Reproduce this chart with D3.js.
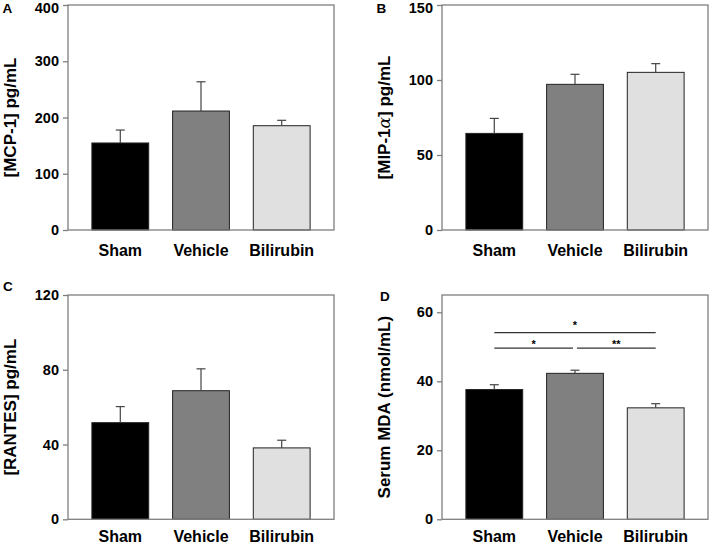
<!DOCTYPE html>
<html>
<head>
<meta charset="utf-8">
<script src="https://cdn.jsdelivr.net/npm/d3@7"></script>
<style>
  html, body { margin: 0; padding: 0; background: #fff; }
  svg { display: block; }
  text { font-family: "Liberation Sans", Arial, sans-serif; font-weight: bold; fill: #000; }
</style>
</head>
<body>
<svg id="chart" width="709" height="546"></svg>
<script>
// ---- data ----
const categories = ["Sham", "Vehicle", "Bilirubin"];
const barColors = ["#000000", "#808080", "#e0e0e0"];

const mcp1Values = [154.7, 211.5, 185.4];
const mcp1Errors = [23, 52, 9.6];
const mcp1Ticks = [0, 100, 200, 300, 400];

const mip1aValues = [64.4, 97.1, 105.1];
const mip1aErrors = [10, 6.7, 5.8];
const mip1aTicks = [0, 50, 100, 150];

const rantesValues = [51.7, 68.8, 38.2];
const rantesErrors = [8.6, 11.7, 4.1];
const rantesTicks = [0, 40, 80, 120];

const mdaValues = [37.6, 42.3, 32.3];
const mdaErrors = [1.4, 0.9, 1.2];
const mdaTicks = [0, 20, 40, 60];

// significance brackets for panel D: [fromIndex, toIndex, yValue, label]
const mdaSig = [
  [0, 2, 54.1, "*"],
  [0, 1, 49.6, "*"],
  [1, 2, 49.6, "**"]
];

// ---- layout ----
const svg = d3.select("#chart");
const panels = [
  { letter: "A", title: "[MCP-1] pg/mL", values: mcp1Values, errors: mcp1Errors, ticks: mcp1Ticks, max: 400,
    x0: 68, x1: 334, y0: 5, y1: 230, titleX: 15.5, letterX: 2.5, letterY: 13, catY: 256 },
  { letter: "B", title: "MIP", values: mip1aValues, errors: mip1aErrors, ticks: mip1aTicks, max: 150,
    x0: 442, x1: 708, y0: 5, y1: 230, titleX: 389.5, letterX: 376.5, letterY: 13, catY: 256 },
  { letter: "C", title: "[RANTES] pg/mL", values: rantesValues, errors: rantesErrors, ticks: rantesTicks, max: 120,
    x0: 68, x1: 334, y0: 295, y1: 519.3, titleX: 15.5, letterX: 3, letterY: 291, catY: 542.4 },
  { letter: "D", title: "Serum MDA (nmol/mL)", values: mdaValues, errors: mdaErrors, ticks: mdaTicks, max: 65,
    x0: 442, x1: 708, y0: 295, y1: 519.3, titleX: 389.5, letterX: 380, letterY: 300.5, catY: 542.4, sig: mdaSig }
];

const frameColor = "#7f7f7f";

panels.forEach(p => {
  const g = svg.append("g");
  const x = d3.scaleBand().domain(categories).range([p.x0, p.x1]).paddingInner(0.296).paddingOuter(0.296);
  const y = d3.scaleLinear().domain([0, p.max]).range([p.y1, p.y0]);

  // bars
  g.selectAll("rect.bar").data(p.values).enter().append("rect")
    .attr("x", (d, i) => x(categories[i]))
    .attr("y", d => y(d))
    .attr("width", x.bandwidth())
    .attr("height", d => y(0) - y(d))
    .attr("fill", (d, i) => barColors[i])
    .attr("stroke", "#222")
    .attr("stroke-width", 1);

  // error bars (upper only)
  p.values.forEach((v, i) => {
    const cx = x(categories[i]) + x.bandwidth() / 2;
    const top = y(v + p.errors[i]);
    g.append("line").attr("x1", cx).attr("x2", cx).attr("y1", y(v)).attr("y2", top)
      .attr("stroke", "#444").attr("stroke-width", 1.2);
    g.append("line").attr("x1", cx - 4.5).attr("x2", cx + 4.5).attr("y1", top).attr("y2", top)
      .attr("stroke", "#444").attr("stroke-width", 1.2);
  });

  // frame
  g.append("rect").attr("x", p.x0).attr("y", p.y0).attr("width", p.x1 - p.x0).attr("height", p.y1 - p.y0)
    .attr("fill", "none").attr("stroke", frameColor).attr("stroke-width", 1.3);

  // y axis
  const ya = g.append("g").attr("transform", `translate(${p.x0},0)`)
    .call(d3.axisLeft(y).tickValues(p.ticks).tickSize(5).tickPadding(4).tickFormat(d3.format("d")));
  ya.select(".domain").remove();
  ya.selectAll(".tick line").attr("stroke", frameColor).attr("stroke-width", 1.3);
  ya.selectAll(".tick text").attr("font-size", "14.5px").attr("font-family", "'Liberation Sans', Arial, sans-serif")
    .attr("font-weight", "bold").attr("fill", "#000");
  // keep a label at the very top edge inside the page
  ya.selectAll(".tick text").each(function () {
    const ty = y(+d3.select(this.parentNode).datum());
    if (ty < 9) d3.select(this).attr("dy", "0.55em");
  });

  // x category labels
  g.selectAll("text.cat").data(categories).enter().append("text")
    .attr("x", d => x(d) + x.bandwidth() / 2)
    .attr("y", p.catY)
    .attr("text-anchor", "middle")
    .attr("font-size", "16px")
    .text(d => d);

  // y title
  const cy = (p.y0 + p.y1) / 2;
  const t = g.append("text")
    .attr("transform", `translate(${p.titleX},${cy}) rotate(-90)`)
    .attr("text-anchor", "middle")
    .attr("font-size", "17px");
  if (p.title === "MIP") {
    t.append("tspan").text("[MIP-1");
    t.append("tspan").attr("font-family", "'DejaVu Serif', serif").attr("font-weight", "normal").attr("font-style", "italic").text("α");
    t.append("tspan").text("] pg/mL");
  } else {
    t.text(p.title);
  }

  // panel letter
  g.append("text").attr("x", p.letterX).attr("y", p.letterY).attr("font-size", "13.5px").text(p.letter);

  // significance
  if (p.sig) {
    p.sig.forEach(s => {
      let xa = x(categories[s[0]]) + x.bandwidth() / 2;
      let xb = x(categories[s[1]]) + x.bandwidth() / 2;
      const short = s[1] - s[0] === 1;
      if (short && s[0] === 1) xa += 2;
      if (short && s[1] === 1) xb -= 2;
      const ly = y(s[2]);
      g.append("line").attr("x1", xa).attr("x2", xb).attr("y1", ly).attr("y2", ly)
        .attr("stroke", "#333").attr("stroke-width", 1.3);
      g.append("text").attr("x", (xa + xb) / 2).attr("y", ly - (short ? 0 : 4))
        .attr("text-anchor", "middle").attr("font-size", "11px").attr("font-weight", "normal").text(s[3]);
    });
  }
});
</script>
</body>
</html>
